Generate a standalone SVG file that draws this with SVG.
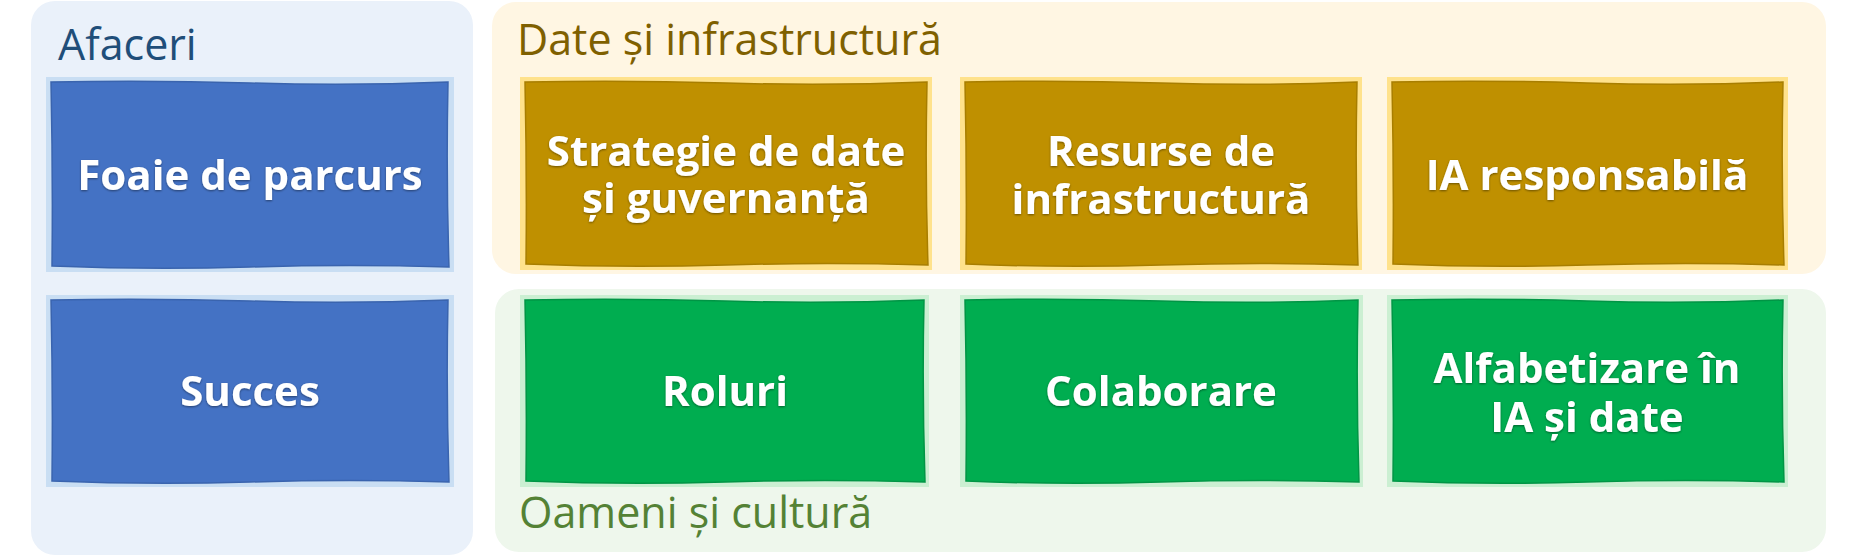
<svg xmlns="http://www.w3.org/2000/svg" width="1854" height="560" viewBox="0 0 1854 560">
  <defs>
    <style>
      .lbl { font-family: "Open Sans", "Noto Sans", "Liberation Sans", sans-serif; font-size: 43px; }
      .nt { font-family: "Open Sans", "Noto Sans", "Liberation Sans", sans-serif; font-size: 42px; font-weight: bold; fill: #FFFFFF; text-anchor: middle; filter: url(#sh); }
      .blue .ring { fill: #C9DEF3; }
      .blue .box { fill: #4472C4; stroke: #3A64AE; stroke-width: 1.5; }
      .gold .ring { fill: #FFE28C; }
      .gold .box { fill: #BF9000; stroke: #A87E00; stroke-width: 1.5; }
      .green .ring { fill: #CBEFD2; }
      .green .box { fill: #00AD50; stroke: #019545; stroke-width: 1.5; }
    </style>
    <filter id="sh" x="-10%" y="-30%" width="120%" height="160%">
      <feDropShadow dx="0" dy="1" stdDeviation="1.2" flood-color="#000000" flood-opacity="0.45"/>
    </filter>
  </defs>
  <rect width="1854" height="560" fill="#FFFFFF"/>

  <g id="panel-afaceri">
    <rect x="31" y="1" width="442" height="554" rx="24" fill="#EAF1FA"/>
    <text class="lbl" x="58" y="60" fill="#1F4E79">Afaceri</text>
  </g>
  <g id="panel-date">
    <rect x="492" y="2" width="1334" height="272" rx="24" fill="#FFF6E3"/>
    <text class="lbl" x="517" y="55" fill="#7F6000">Date și infrastructură</text>
  </g>
  <g id="panel-oameni">
    <rect x="495" y="289" width="1331" height="263" rx="24" fill="#EEF7EC"/>
    <text class="lbl" x="519" y="528" fill="#548235">Oameni și cultură</text>
  </g>

  <g id="node-foaie" class="blue">
    <rect class="ring" x="46" y="77" width="408" height="195"/>
    <path class="box" d="M51 82 Q150 80 250 83 T448 82 Q446 175 449 267 Q350 264 250 267 T52 266 Q53 175 51 82 Z"/>
    <text class="nt" x="250" y="190">Foaie de parcurs</text>
  </g>
  <g id="node-succes" class="blue">
    <rect class="ring" x="46" y="295" width="408" height="192"/>
    <path class="box" d="M51 300 Q150 298 250 301 T448 300 Q446 390 449 482 Q350 479 250 482 T52 481 Q53 390 51 300 Z"/>
    <text class="nt" x="250" y="406">Succes</text>
  </g>

  <g id="node-strategie" class="gold">
    <rect class="ring" x="520" y="77" width="412" height="193"/>
    <path class="box" d="M525 82 Q625 80 726 83 T927 82 Q925 175 928 265 Q828 262 726 265 T526 264 Q527 175 525 82 Z"/>
    <text class="nt" x="726" y="166">Strategie de date<tspan x="726" dy="47">și guvernanță</tspan></text>
  </g>
  <g id="node-resurse" class="gold">
    <rect class="ring" x="960" y="77" width="402" height="193"/>
    <path class="box" d="M965 82 Q1062 80 1161 83 T1357 82 Q1355 175 1358 265 Q1260 262 1161 265 T966 264 Q967 175 965 82 Z"/>
    <text class="nt" x="1161" y="166">Resurse de<tspan x="1161" dy="48">infrastructură</tspan></text>
  </g>
  <g id="node-ia" class="gold">
    <rect class="ring" x="1387" y="77" width="401" height="193"/>
    <path class="box" d="M1392 82 Q1490 80 1587 83 T1783 82 Q1781 175 1784 265 Q1686 262 1587 265 T1393 264 Q1394 175 1392 82 Z"/>
    <text class="nt" x="1587" y="190">IA responsabilă</text>
  </g>

  <g id="node-roluri" class="green">
    <rect class="ring" x="520" y="295" width="409" height="192"/>
    <path class="box" d="M525 300 Q625 298 725 301 T924 300 Q922 390 925 482 Q825 479 725 482 T526 481 Q527 390 525 300 Z"/>
    <text class="nt" x="725" y="406">Roluri</text>
  </g>
  <g id="node-colaborare" class="green">
    <rect class="ring" x="960" y="295" width="403" height="192"/>
    <path class="box" d="M965 300 Q1062 298 1161 301 T1358 300 Q1356 390 1359 482 Q1260 479 1161 482 T966 481 Q967 390 965 300 Z"/>
    <text class="nt" x="1161" y="406">Colaborare</text>
  </g>
  <g id="node-alfabetizare" class="green">
    <rect class="ring" x="1387" y="295" width="401" height="192"/>
    <path class="box" d="M1392 300 Q1490 298 1587 301 T1783 300 Q1781 390 1784 482 Q1686 479 1587 482 T1393 481 Q1394 390 1392 300 Z"/>
    <text class="nt" x="1587" y="383">Alfabetizare în<tspan x="1587" dy="49">IA și date</tspan></text>
  </g>

  <g id="connectors"/>
</svg>
